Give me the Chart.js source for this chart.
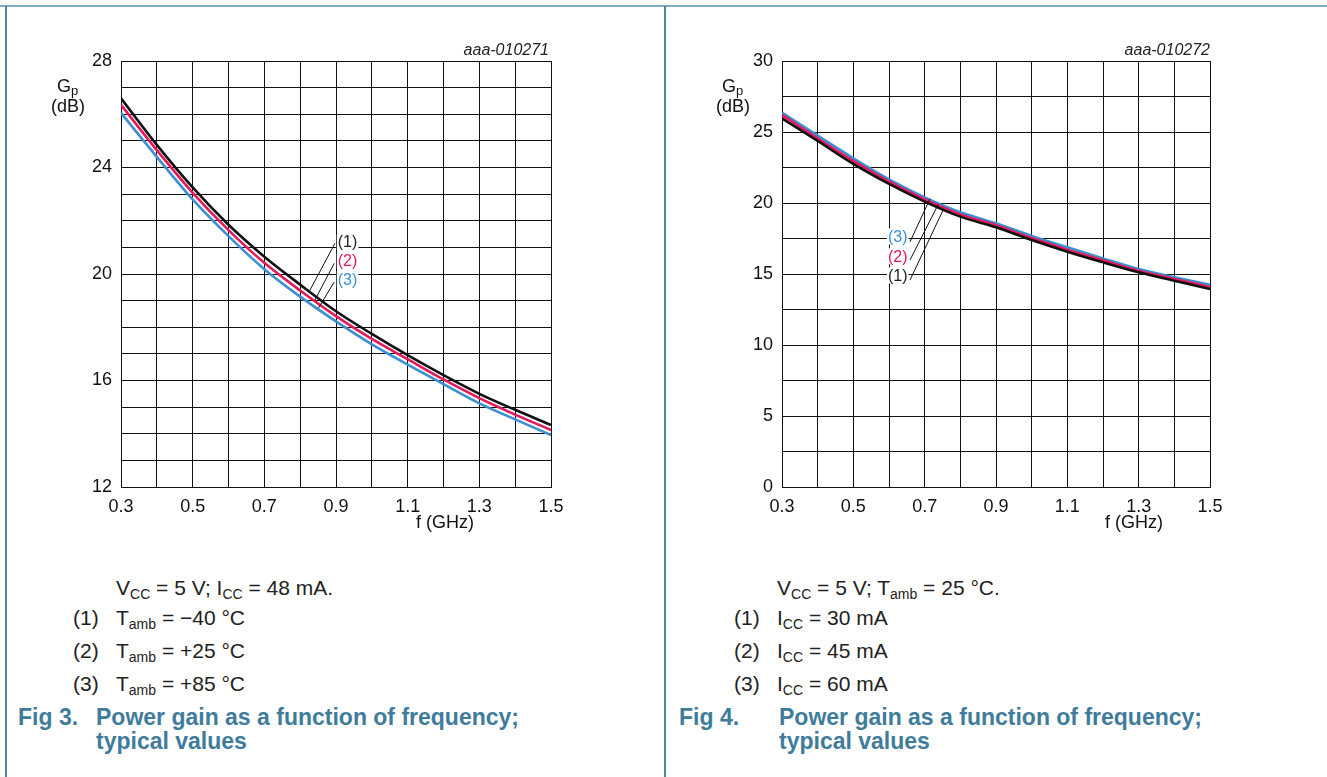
<!DOCTYPE html>
<html>
<head>
<meta charset="utf-8">
<title>Power gain as a function of frequency</title>
<script src="https://cdn.jsdelivr.net/npm/chart.js@4.4.1/dist/chart.umd.min.js"></script>
<style>
  html, body { margin: 0; padding: 0; background: #fff; }
  body { width: 1327px; height: 777px; position: relative; overflow: hidden;
         font-family: "Liberation Sans", Arial, sans-serif; color: #222; }
  .rule { position: absolute; background: #4f87a3; }
  canvas { position: absolute; top: 0; }
  .txt { position: absolute; white-space: nowrap; }
  .axis { font-size: 18px; line-height: 18px; color: #111; }
  .code { font-size: 16px; font-style: italic; color: #222; }
  .note { font-size: 21px; line-height: 21px; }
  .note sub { font-size: 14px; vertical-align: -4px; line-height: 0; }
  .axis sub { font-size: 13px; vertical-align: -3px; line-height: 0; }
  .cap { font-size: 23px; line-height: 24px; font-weight: bold; color: #3f7c9c; }
</style>
</head>
<body>

<div class="rule" style="left:0;top:5px;width:1327px;height:2px;background:#7fadc2"></div>
<div class="rule" style="left:5px;top:6px;width:2px;height:771px"></div>
<div class="rule" style="left:664px;top:6px;width:2px;height:771px"></div>

<canvas id="fig3" width="665" height="560" style="left:0"></canvas>
<canvas id="fig4" width="662" height="560" style="left:665px"></canvas>

<!-- Fig 3 texts -->
<div class="txt axis" style="left:57px;top:77px">G<sub>p</sub></div>
<div class="txt axis" style="left:51px;top:97px">(dB)</div>
<div class="txt axis" style="left:416px;top:513px">f (GHz)</div>
<div class="txt code" style="right:778px;top:41px">aaa-010271</div>

<div class="txt note" style="left:116px;top:577px">V<sub>CC</sub> = 5 V; I<sub>CC</sub> = 48 mA.</div>
<div class="txt note" style="left:73px;top:607px">(1)</div>
<div class="txt note" style="left:116px;top:607px">T<sub>amb</sub> = &minus;40 &deg;C</div>
<div class="txt note" style="left:73px;top:640px">(2)</div>
<div class="txt note" style="left:116px;top:640px">T<sub>amb</sub> = +25 &deg;C</div>
<div class="txt note" style="left:73px;top:673px">(3)</div>
<div class="txt note" style="left:116px;top:673px">T<sub>amb</sub> = +85 &deg;C</div>
<div class="txt cap" style="left:18px;top:705px">Fig 3.</div>
<div class="txt cap" style="left:96px;top:705px">Power gain as a function of frequency;<br>typical values</div>

<!-- Fig 4 texts -->
<div class="txt axis" style="left:722px;top:77px">G<sub>p</sub></div>
<div class="txt axis" style="left:716px;top:97px">(dB)</div>
<div class="txt axis" style="left:1105px;top:513px">f (GHz)</div>
<div class="txt code" style="right:117px;top:41px">aaa-010272</div>

<div class="txt note" style="left:777px;top:577px">V<sub>CC</sub> = 5 V; T<sub>amb</sub> = 25 &deg;C.</div>
<div class="txt note" style="left:734px;top:607px">(1)</div>
<div class="txt note" style="left:777px;top:607px">I<sub>CC</sub> = 30 mA</div>
<div class="txt note" style="left:734px;top:640px">(2)</div>
<div class="txt note" style="left:777px;top:640px">I<sub>CC</sub> = 45 mA</div>
<div class="txt note" style="left:734px;top:673px">(3)</div>
<div class="txt note" style="left:777px;top:673px">I<sub>CC</sub> = 60 mA</div>
<div class="txt cap" style="left:679px;top:705px">Fig 4.</div>
<div class="txt cap" style="left:779px;top:705px">Power gain as a function of frequency;<br>typical values</div>

<script>
'use strict';

/* ─── Data ────────────────────────────────────────────────── */
var freq = [0.3, 0.4, 0.5, 0.6, 0.7, 0.8, 0.9, 1.0, 1.1, 1.2, 1.3, 1.4, 1.5];

/* Fig 3 : Gp (dB) for Tamb = -40, +25, +85 °C */
var gainTm40 = [26.60, 24.85, 23.25, 21.85, 20.65, 19.60, 18.60, 17.75, 16.95, 16.20, 15.50, 14.90, 14.33];
var gainT25  = [26.35, 24.65, 23.05, 21.65, 20.42, 19.38, 18.42, 17.56, 16.80, 16.04, 15.34, 14.72, 14.14];
var gainT85  = [26.05, 24.40, 22.80, 21.42, 20.18, 19.15, 18.22, 17.36, 16.60, 15.86, 15.14, 14.54, 13.95];

/* Fig 4 : Gp (dB) for Icc = 30, 45, 60 mA */
var gainI30 = [25.96, 24.37, 22.75, 21.34, 20.10, 19.04, 18.29, 17.39, 16.57, 15.82, 15.12, 14.53, 13.94];
var gainI45 = [26.20, 24.55, 22.96, 21.50, 20.26, 19.20, 18.43, 17.53, 16.71, 15.96, 15.23, 14.65, 14.08];
var gainI60 = [26.36, 24.74, 23.15, 21.67, 20.40, 19.35, 18.57, 17.68, 16.88, 16.10, 15.35, 14.77, 14.23];

/* Tick labels */
var xTickLabels    = ['0.3', '0.5', '0.7', '0.9', '1.1', '1.3', '1.5'];
var yTickLabelsF3  = [12, 16, 20, 24, 28];
var yTickLabelsF4  = [0, 5, 10, 15, 20, 25, 30];

var BLACK = '#111111';
var RED   = '#e6185c';
var BLUE  = '#3b8fd5';
var FONT  = '"Liberation Sans", Arial, sans-serif';

function toPoints(xs, ys) {
  var pts = [];
  for (var i = 0; i < xs.length; i++) { pts.push({ x: xs[i], y: ys[i] }); }
  return pts;
}

function lineSet(label, values, color) {
  return {
    label: label,
    data: toPoints(freq, values),
    borderColor: color,
    borderWidth: 2.6,
    pointRadius: 0,
    fill: false,
    cubicInterpolationMode: 'monotone'
  };
}

/* ─── Curve identifiers (1)(2)(3) with leader lines ──────── */
var calloutPlugin = {
  id: 'callouts',
  afterDatasetsDraw: function(chart, args, opts) {
    var ctx = chart.ctx;
    var xs = chart.scales.x;
    var ys = chart.scales.y;
    var i;
    ctx.save();
    ctx.font = '16px ' + FONT;
    ctx.textBaseline = 'middle';
    for (i = 0; i < opts.labels.length; i++) {
      var l = opts.labels[i];
      var px = xs.getPixelForValue(l.x);
      var py = ys.getPixelForValue(l.y);
      var w = ctx.measureText(l.text).width;
      var left = l.align === 'right' ? px - w : px;
      ctx.fillStyle = '#fff';
      ctx.fillRect(left - 1, py - 8, w + 2, 16);
      ctx.fillStyle = l.color;
      ctx.textAlign = 'left';
      ctx.fillText(l.text, left, py + 1);
    }
    ctx.strokeStyle = '#111';
    ctx.lineWidth = 1;
    for (i = 0; i < opts.leaders.length; i++) {
      var s = opts.leaders[i];
      ctx.beginPath();
      ctx.moveTo(xs.getPixelForValue(s[0]), ys.getPixelForValue(s[1]));
      ctx.lineTo(xs.getPixelForValue(s[2]), ys.getPixelForValue(s[3]));
      ctx.stroke();
    }
    ctx.restore();
  }
};

function buildChart(id, datasets, yMin, yMax, yStep, yLabels, pad, callouts) {
  var ctx = document.getElementById(id);
  if (!ctx || typeof Chart === 'undefined') { return null; }
  return new Chart(ctx, {
    type: 'line',
    data: { datasets: datasets },
    plugins: [calloutPlugin],
    options: {
      responsive: false,
      animation: false,
      events: [],
      layout: { padding: pad },
      plugins: {
        legend: { display: false },
        tooltip: { enabled: false },
        callouts: callouts
      },
      scales: {
        x: {
          type: 'linear',
          min: 0.3,
          max: 1.5,
          afterBuildTicks: function(scale) {
            scale.ticks = freq.map(function(v) { return { value: v }; });
          },
          afterFit: function(scale) { scale.height = 30; },
          grid: { color: BLACK, lineWidth: 1, drawTicks: false },
          border: { color: BLACK, width: 1 },
          ticks: {
            padding: 9,
            color: '#111',
            font: { family: FONT, size: 18 },
            maxRotation: 0,
            autoSkip: false,
            callback: function(v) {
              var s = v.toFixed(1);
              return xTickLabels.indexOf(s) !== -1 ? s : '';
            }
          }
        },
        y: {
          min: yMin,
          max: yMax,
          afterBuildTicks: function(scale) {
            var t = [];
            for (var v = yMin; v <= yMax + 1e-9; v += yStep) { t.push({ value: v }); }
            scale.ticks = t;
          },
          afterFit: function(scale) { scale.width = 40; },
          grid: { color: BLACK, lineWidth: 1, drawTicks: false },
          border: { color: BLACK, width: 1 },
          ticks: {
            padding: 9,
            color: '#111',
            font: { family: FONT, size: 18 },
            autoSkip: false,
            callback: function(v) {
              return yLabels.indexOf(v) !== -1 ? String(v) : '';
            }
          }
        }
      }
    }
  });
}

/* ─── Init ────────────────────────────────────────────────── */
document.addEventListener('DOMContentLoaded', function() {
  buildChart('fig3',
    [lineSet('(1)', gainTm40, BLACK), lineSet('(2)', gainT25, RED), lineSet('(3)', gainT85, BLUE)],
    12, 28, 1, yTickLabelsF3,
    { left: 81, right: 114, top: 61, bottom: 43 },
    {
      labels: [
        { text: '(1)', color: '#222', x: 0.905, y: 21.2 },
        { text: '(2)', color: RED,    x: 0.905, y: 20.5 },
        { text: '(3)', color: BLUE,   x: 0.905, y: 19.8 }
      ],
      leaders: [
        [0.897, 21.15, 0.826, 19.36],
        [0.895, 20.40, 0.841, 19.02],
        [0.895, 19.70, 0.851, 18.72]
      ]
    });

  buildChart('fig4',
    [lineSet('(1)', gainI30, BLACK), lineSet('(2)', gainI45, RED), lineSet('(3)', gainI60, BLUE)],
    0, 30, 2.5, yTickLabelsF4,
    { left: 77, right: 117, top: 61, bottom: 43 },
    {
      labels: [
        { text: '(3)', color: BLUE,   x: 0.652, y: 17.65, align: 'right' },
        { text: '(2)', color: RED,    x: 0.652, y: 16.25, align: 'right' },
        { text: '(1)', color: '#222', x: 0.652, y: 14.90, align: 'right' }
      ],
      leaders: [
        [0.659, 17.27, 0.715, 20.30],
        [0.659, 15.99, 0.738, 19.90],
        [0.659, 14.58, 0.752, 19.52]
      ]
    });
});
</script>
</body>
</html>
